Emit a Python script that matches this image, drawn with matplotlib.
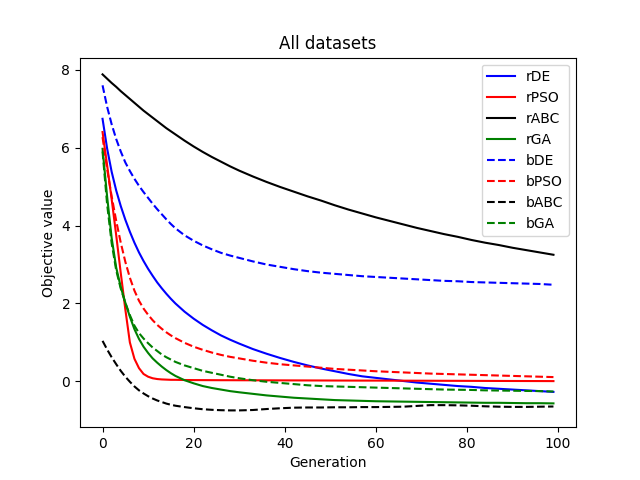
import matplotlib
matplotlib.use("Agg")
import matplotlib.pyplot as plt

generation = [0, 1, 2, 3, 4, 5, 6, 7, 8, 9, 10, 11, 12, 13, 14, 15, 16,
              18, 20, 22, 24, 26, 28, 30,
              33, 36, 39, 42, 45, 48, 51, 54, 57, 60, 63, 66, 69, 72, 75,
              78, 81, 84, 87, 90, 93, 96, 99]

rDE = [6.74, 5.98, 5.38, 4.90, 4.50, 4.15, 3.84, 3.56, 3.31, 3.09, 2.89, 2.71,
       2.54, 2.39, 2.25, 2.12, 2.00,
       1.79, 1.61, 1.45, 1.31, 1.18, 1.07, 0.97,
       0.83, 0.71, 0.60, 0.50, 0.41, 0.33, 0.26, 0.19, 0.13, 0.09, 0.05, 0.01,
       -0.03, -0.06, -0.09, -0.12, -0.14, -0.17, -0.19, -0.21, -0.23, -0.25, -0.27]

rPSO = [6.40, 5.55, 4.68, 3.75, 2.78, 1.85, 1.00, 0.58, 0.34, 0.19, 0.12, 0.08,
        0.06, 0.05, 0.045, 0.04, 0.04,
        0.035, 0.033, 0.032, 0.031, 0.030, 0.030, 0.029,
        0.028, 0.027, 0.026, 0.025, 0.024, 0.023, 0.022, 0.021, 0.020, 0.020,
        0.019, 0.018, 0.017, 0.016, 0.015, 0.014, 0.013, 0.012, 0.011, 0.010,
        0.009, 0.008, 0.007]

rABC = [7.88, 7.77, 7.66, 7.56, 7.45, 7.35, 7.25, 7.15, 7.05, 6.95, 6.86, 6.77,
        6.68, 6.59, 6.50, 6.42, 6.34,
        6.18, 6.03, 5.89, 5.76, 5.64, 5.52, 5.41,
        5.26, 5.12, 4.99, 4.87, 4.75, 4.64, 4.52, 4.41, 4.31, 4.21, 4.12, 4.03,
        3.94, 3.86, 3.78, 3.71, 3.63, 3.56, 3.50, 3.43, 3.37, 3.31, 3.25]

rGA = [5.97, 4.75, 3.68, 2.92, 2.42, 2.02, 1.66, 1.34, 1.09, 0.89, 0.73, 0.59,
       0.48, 0.38, 0.29, 0.21, 0.14,
       0.03, -0.05, -0.12, -0.17, -0.21, -0.25, -0.28,
       -0.32, -0.36, -0.39, -0.42, -0.44, -0.46, -0.48, -0.49, -0.50, -0.51,
       -0.515, -0.52, -0.525, -0.53, -0.535, -0.54, -0.545, -0.55, -0.55,
       -0.555, -0.56, -0.56, -0.565]

bDE = [7.60, 7.05, 6.60, 6.22, 5.90, 5.62, 5.40, 5.20, 5.02, 4.86, 4.71, 4.56,
       4.42, 4.29, 4.16, 4.04, 3.93,
       3.75, 3.61, 3.49, 3.39, 3.30, 3.23, 3.17,
       3.08, 3.00, 2.94, 2.88, 2.83, 2.79, 2.76, 2.73, 2.70, 2.68, 2.66, 2.64,
       2.62, 2.60, 2.58, 2.57, 2.55, 2.54, 2.53, 2.52, 2.51, 2.50, 2.48]

bPSO = [6.27, 5.45, 4.75, 4.12, 3.56, 3.07, 2.66, 2.33, 2.07, 1.87, 1.71, 1.57,
        1.45, 1.35, 1.26, 1.18, 1.11,
        0.99, 0.89, 0.81, 0.74, 0.68, 0.63, 0.59,
        0.53, 0.48, 0.44, 0.41, 0.38, 0.35, 0.32, 0.30, 0.28, 0.26, 0.245, 0.23,
        0.215, 0.20, 0.19, 0.18, 0.17, 0.16, 0.15, 0.14, 0.13, 0.12, 0.11]

bABC = [1.04, 0.82, 0.62, 0.44, 0.27, 0.12, -0.01, -0.13, -0.23, -0.31, -0.38,
        -0.44, -0.49, -0.53, -0.57, -0.60, -0.625,
        -0.66, -0.69, -0.715, -0.73, -0.74, -0.745, -0.745,
        -0.735, -0.71, -0.69, -0.675, -0.67, -0.67, -0.665, -0.665, -0.66,
        -0.66, -0.655, -0.65, -0.63, -0.61, -0.61, -0.615, -0.625, -0.64,
        -0.65, -0.655, -0.655, -0.65, -0.645]

bGA = [5.90, 4.55, 3.55, 2.85, 2.38, 2.02, 1.70, 1.43, 1.24, 1.10, 0.98, 0.87,
       0.78, 0.69, 0.62, 0.56, 0.50,
       0.41, 0.34, 0.27, 0.22, 0.17, 0.12, 0.08,
       0.03, -0.01, -0.04, -0.07, -0.10, -0.12, -0.13, -0.14, -0.15, -0.16,
       -0.17, -0.18, -0.19, -0.20, -0.21, -0.215, -0.22, -0.23, -0.235, -0.24,
       -0.245, -0.25, -0.26]

series = [
    ("rDE", rDE, "b", "-"),
    ("rPSO", rPSO, "r", "-"),
    ("rABC", rABC, "k", "-"),
    ("rGA", rGA, "g", "-"),
    ("bDE", bDE, "b", "--"),
    ("bPSO", bPSO, "r", "--"),
    ("bABC", bABC, "k", "--"),
    ("bGA", bGA, "g", "--"),
]

fig, ax = plt.subplots(figsize=(6.4, 4.8), dpi=100)
for name, values, color, style in series:
    ax.plot(generation, values, color=color, linestyle=style, label=name)

ax.set_title("All datasets")
ax.set_xlabel("Generation")
ax.set_ylabel("Objective value")
ax.legend(loc="upper right")
plt.savefig("out.png")
plt.close()
